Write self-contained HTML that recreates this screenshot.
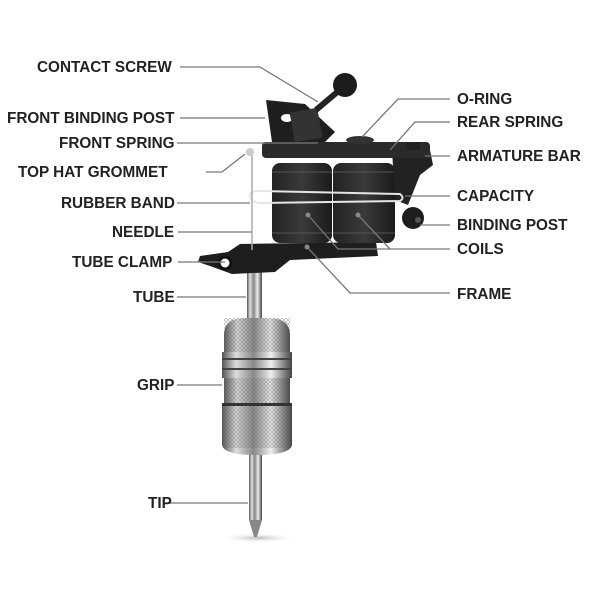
<!DOCTYPE html>
<html><head><meta charset="utf-8"><style>
html,body{margin:0;padding:0;background:#fff;}
svg text{font-family:"Liberation Sans",sans-serif;font-weight:bold;font-size:15.3px;fill:#222;}
</style></head><body>
<svg width="600" height="600" viewBox="0 0 600 600" xmlns="http://www.w3.org/2000/svg">
<defs>
<linearGradient id="chrome" x1="0" x2="1" y1="0" y2="0">
<stop offset="0" stop-color="#555"/><stop offset="0.2" stop-color="#ddd"/><stop offset="0.45" stop-color="#888"/><stop offset="0.7" stop-color="#eee"/><stop offset="1" stop-color="#444"/>
</linearGradient>
<linearGradient id="coil" x1="0" x2="1"><stop offset="0" stop-color="#222"/><stop offset="0.5" stop-color="#3a3a3a"/><stop offset="1" stop-color="#1a1a1a"/></linearGradient>
<pattern id="knurl" width="4" height="4" patternUnits="userSpaceOnUse"><path d="M0 0L4 4M4 0L0 4" stroke="#666" stroke-width="0.6" opacity="0.6"/></pattern>
<radialGradient id="shadow"><stop offset="0" stop-color="#bbb"/><stop offset="1" stop-color="#fff" stop-opacity="0"/></radialGradient>
</defs>
<ellipse cx="258" cy="538" rx="40" ry="5" fill="url(#shadow)"/>
<rect x="247" y="268" width="15" height="55" fill="url(#chrome)"/>
<rect x="249" y="450" width="13" height="70" fill="url(#chrome)"/>
<polygon points="249,520 262,520 257,537 254,537" fill="#888"/>
<path d="M224 335 Q224 318 245 318 L268 318 Q290 318 290 335 L290 352 L224 352Z" fill="url(#chrome)"/>
<rect x="224" y="318" width="66" height="34" fill="url(#knurl)"/>
<rect x="222" y="352" width="70" height="26" fill="url(#chrome)"/>
<line x1="222" y1="359" x2="292" y2="359" stroke="#444" stroke-width="2"/>
<line x1="222" y1="369" x2="292" y2="369" stroke="#444" stroke-width="2"/>
<rect x="224" y="378" width="66" height="25" fill="url(#chrome)"/>
<rect x="224" y="378" width="66" height="25" fill="url(#knurl)"/>
<rect x="222" y="403" width="70" height="3" fill="#333"/>
<path d="M222 406 L292 406 L292 445 Q290 455 256 455 Q224 455 222 445Z" fill="url(#chrome)"/>
<rect x="224" y="406" width="66" height="42" fill="url(#knurl)"/>
<polygon points="200,256 228,252 240,244 376,242 378,256 290,260 275,272 232,274 210,266 198,262" fill="#1e1e1e"/>
<circle cx="225" cy="263" r="6" fill="#fff" stroke="#111" stroke-width="3"/>
<rect x="272" y="163" width="60" height="80" rx="8" fill="url(#coil)"/>
<rect x="333" y="163" width="62" height="80" rx="8" fill="url(#coil)"/>
<line x1="272" y1="172" x2="332" y2="172" stroke="#555"/>
<line x1="333" y1="172" x2="395" y2="172" stroke="#555"/>
<line x1="272" y1="233" x2="332" y2="233" stroke="#555"/>
<line x1="333" y1="233" x2="395" y2="233" stroke="#555"/>
<polygon points="392,150 430,150 433,165 420,175 408,205 395,200" fill="#222"/>
<rect x="262" y="142" width="168" height="16" rx="4" fill="#2a2a2a"/>
<polygon points="266,100 305,104 335,132 325,142 272,142" fill="#1f1f1f"/>
<ellipse cx="287" cy="118" rx="6" ry="4" fill="#fff"/>
<rect x="292" y="110" width="28" height="30" fill="#333" transform="rotate(-10 306 125)"/>
<line x1="316" y1="110" x2="342" y2="88" stroke="#222" stroke-width="6"/>
<circle cx="345" cy="85" r="12" fill="#1c1c1c"/>
<ellipse cx="360" cy="140" rx="14" ry="4" fill="#333"/>
<rect x="406" y="142" width="14" height="8" fill="#222"/>
<path d="M250 195 Q250 191 260 191 L400 194 Q405 198 400 201 L260 203 Q250 202 250 195" fill="none" stroke="#e6e6e6" stroke-width="2"/>
<circle cx="413" cy="218" r="11" fill="#1e1e1e"/>
<circle cx="418" cy="220" r="3" fill="#555"/>
<line x1="252" y1="150" x2="252" y2="250" stroke="#aaa" stroke-width="1.5"/>
<circle cx="250" cy="152" r="4" fill="#ccc"/>
<g stroke="#777" stroke-width="1.3" fill="none">
<polyline points="180,67 260,67 318,102"/>
<polyline points="180,118 265,118"/>
<polyline points="177,143 318,143"/>
<polyline points="206,172 222,172 245,154"/>
<polyline points="177,203 250,203"/>
<polyline points="178,232 252,232"/>
<polyline points="178,262 225,262"/>
<polyline points="177,297 246,297"/>
<polyline points="177,385 222,385"/>
<polyline points="165,503 248,503"/>
<polyline points="450,99 398,99 362,137"/>
<polyline points="450,122 415,122 390,150"/>
<polyline points="450,156 425,156"/>
<polyline points="450,196 405,196"/>
<polyline points="450,225 420,225"/>
<polyline points="450,249 338,249 308,215"/>
<polyline points="390,249 358,215"/>
<polyline points="450,293 350,293 307,247"/>
</g>
<g fill="#888"><circle cx="308" cy="215" r="2.5"/><circle cx="358" cy="215" r="2.5"/><circle cx="307" cy="247" r="2.5"/></g>
<text x="37" y="72">CONTACT SCREW</text>
<text x="7" y="123">FRONT BINDING POST</text>
<text x="59" y="148">FRONT SPRING</text>
<text x="18" y="177">TOP HAT GROMMET</text>
<text x="61" y="208">RUBBER BAND</text>
<text x="112" y="237">NEEDLE</text>
<text x="72" y="267">TUBE CLAMP</text>
<text x="133" y="302">TUBE</text>
<text x="137" y="390">GRIP</text>
<text x="148" y="508">TIP</text>
<text x="457" y="104">O-RING</text>
<text x="457" y="127">REAR SPRING</text>
<text x="457" y="161">ARMATURE BAR</text>
<text x="457" y="201">CAPACITY</text>
<text x="457" y="230">BINDING POST</text>
<text x="457" y="254">COILS</text>
<text x="457" y="299">FRAME</text>
</svg>
</body></html>
